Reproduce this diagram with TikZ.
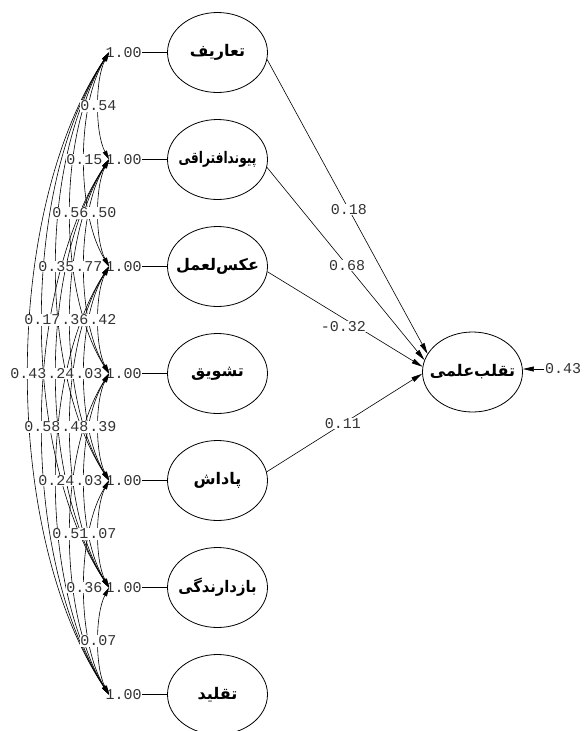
\documentclass[tikz,border=0pt]{standalone}
\usepackage{fontspec}
\usetikzlibrary{shapes.geometric,arrows.meta}
\setmonofont{Liberation Mono}
\newfontfamily\arabicfont[Script=Arabic]{DejaVu Sans}
\TeXXeTstate=1
\newcommand\fa[2][1]{\makebox[0pt]{\scalebox{#1}[1]{\beginR #2\endR}}}
\begin{document}
\begin{tikzpicture}[x=1pt,y=-1pt,
  latent/.style={draw, ellipse, minimum width=100pt, minimum height=80pt, inner sep=0pt, line width=0.8pt,
    font=\arabicfont\bfseries\fontsize{16}{16}\selectfont},
  num/.style={font=\fontsize{15}{15}\selectfont\ttfamily, text=black!80, inner sep=0.5pt},
  covlab/.style={num, fill=white},
  cov/.style={line width=0.6pt, {Triangle[length=9pt,width=4.5pt]}-{Triangle[length=9pt,width=4.5pt]}},
  path/.style={line width=0.6pt, -{Triangle[length=11pt,width=5pt]}},
  link/.style={line width=0.8pt}
]
\useasboundingbox (0,0) rectangle (585,731);
% latent variables (left column)
\node[latent] (v1) at (217.5,52.5)  {\fa{تعاریف}};
\node[latent] (v2) at (217.5,159.5) {\fa[0.76]{پیوندافتراقی}};
\node[latent] (v3) at (217.5,266.5) {\fa{عکس‌لعمل}};
\node[latent] (v4) at (217.5,373.5) {\fa{تشویق}};
\node[latent] (v5) at (217.5,480.5) {\fa{پاداش}};
\node[latent] (v6) at (217.5,587.5) {\fa[0.92]{بازدارندگی}};
\node[latent] (v7) at (217.5,694.5) {\fa{تقلید}};
% dependent latent
\node[latent] (t) at (472.5,372) {\fa{تقلب‌علمی}};
% variance labels and anchors
\foreach \i in {1,...,7}{
  \pgfmathsetmacro\yy{52.5+107*(\i-1)}
  \node[num] (u\i) at (123.6,\yy) {1.00};
  \coordinate (a\i) at (109,\yy);
  \draw[link] (u\i.east) -- (v\i.west);
}
% covariance curves
\def\covlist{1/2/0.54,2/3/0.50,3/4/0.42,4/5/0.39,5/6/0.07,6/7/0.07,
  1/3/0.15,2/4/0.77,3/5/0.03,4/6/0.03,5/7/0.36,
  1/4/0.56,2/5/0.36,3/6/0.48,4/7/0.51,
  1/5/0.35,2/6/0.24,3/7/0.24,
  1/6/0.17,2/7/0.58,
  1/7/0.43}
\foreach \i/\j/\v in \covlist {
  \pgfmathsetmacro\yi{52.5+107*(\i-1)}
  \pgfmathsetmacro\yj{52.5+107*(\j-1)}
  \pgfmathsetmacro\xm{112.5-14*(\j-\i)}
  \pgfmathsetmacro\xc{(4*\xm-109)/3}
  \pgfmathsetmacro\ya{\yi+0.25*(\yj-\yi)}
  \pgfmathsetmacro\yb{\yj-0.25*(\yj-\yi)}
  \draw[cov] (a\i) .. controls (\xc,\ya) and (\xc,\yb) .. (a\j);
}
\foreach \i/\j/\v in \covlist {
  \pgfmathsetmacro\yi{52.5+107*(\i-1)}
  \pgfmathsetmacro\yj{52.5+107*(\j-1)}
  \pgfmathsetmacro\xm{112.5-14*(\j-\i)}
  \pgfmathsetmacro\ym{(\yi+\yj)/2}
  \node[covlab] (c\i-\j) at (\xm,\ym) {\v};
}
% structural paths
\draw[path] (v1.-8) -- node[covlab, pos=0.51] (p1) {0.18} (t.158);
\draw[path] (v2.-9) -- node[covlab, pos=0.51] (p2) {0.68} (t.166);
\draw[path] (v3.-6) -- node[covlab, pos=0.49, yshift=-8pt] (p3) {-0.32} (t.174);
\draw[path] (v5.10) -- node[covlab, pos=0.49] (p5) {0.11} (t.182);
% error term
\node[num] (err) at (563,369) {0.43};
\draw[path] (err.west) -- (err.west -| t.east);
\end{tikzpicture}
\end{document}
